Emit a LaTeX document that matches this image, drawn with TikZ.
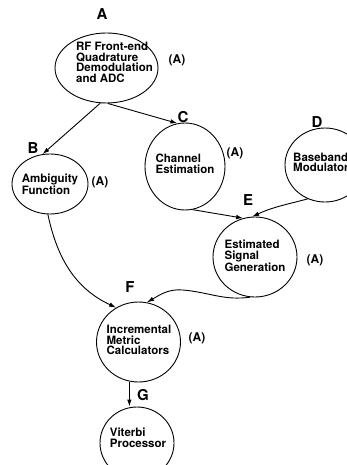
\documentclass[tikz,border=0pt]{standalone}
\usepackage{fontspec}
\setmainfont{TeX Gyre Heros}
\usetikzlibrary{shapes,arrows.meta,positioning,calc}

\begin{document}
\begin{tikzpicture}[
    x=1pt, y=1pt,
    proc/.style={ellipse, draw, line width=0.9pt, inner sep=0pt},
    txt/.style={align=left, inner sep=0pt, font=\bfseries\fontsize{11.5}{10.5}\selectfont},
    tag/.style={inner sep=0pt, font=\bfseries\fontsize{15}{15}\selectfont},
    note/.style={inner sep=0pt, font=\bfseries\fontsize{12}{12}\selectfont},
    arrow/.style={-{Latex[length=7pt,width=4.5pt]}, line width=0.9pt}
]
    \useasboundingbox (0,0) rectangle (347,-465);
    \clip (0,0) rectangle (347,-465);

    % blocks
    \node[proc, minimum width=103, minimum height=70] (a) at (106.5,-68) {};
    \node[proc, minimum width=76, minimum height=60] (b) at (50,-184) {};
    \node[proc, minimum width=80, minimum height=87] (c) at (185,-166.5) {};
    \node[proc, minimum width=80, minimum height=74] (d) at (325,-165) {};
    \node[proc, minimum width=84, minimum height=80] (e) at (255,-257) {};
    \node[proc, minimum width=84, minimum height=80] (f) at (138.5,-342) {};
    \node[proc, minimum width=74, minimum height=72] (g) at (137,-443) {};

    \node[txt] (atext) at (114.5,-62.5) {RF Front-end\\Quadrature\\Demodulation\\and ADC};
    \node[txt] (btext) at (50,-184) {Ambiguity\\Function};
    \node[txt] (ctext) at (185,-164) {Channel\\Estimation};
    \node[txt, anchor=west] (dtext) at (293,-162.5) {Baseband\\Modulator};
    \node[txt] (etext) at (255,-256) {Estimated\\Signal\\Generation};
    \node[txt] (ftext) at (139,-340) {Incremental\\Metric\\Calculators};
    \node[txt] (gtext) at (138,-438) {Viterbi\\Processor};

    % letters
    \node[tag] (alabel) at (102,-14) {A};
    \node[tag] (blabel) at (33,-148) {B};
    \node[tag] (clabel) at (183,-117) {C};
    \node[tag] (dlabel) at (317,-122) {D};
    \node[tag] (elabel) at (248,-200) {E};
    \node[tag] (flabel) at (130,-287) {F};
    \node[tag] (glabel) at (143,-395) {G};

    \node[note] (anote) at (177,-60) {(A)};
    \node[note] (bnote) at (100,-182) {(A)};
    \node[note] (cnote) at (235,-153) {(A)};
    \node[note] (enote) at (315,-260) {(A)};
    \node[note] (fnote) at (197,-338) {(A)};

    % connections
    \coordinate (bump) at (183,-290);
    \draw[arrow] (a.260) -- (b.104);
    \draw[arrow] (a.272) -- (c.100);
    \draw[arrow] (c.280) -- (e.107);
    \draw[arrow] (d.243) to[out=195,in=25] (e.94);
    \draw[arrow] (b.266) to[out=-78,in=155] (f.123);
    \draw[arrow] (e.263) to[out=188,in=-5] (bump) to[out=175,in=30] (f.78);
    \draw[arrow] (f.257) -- (f.257 |- g.north);
\end{tikzpicture}
\end{document}
